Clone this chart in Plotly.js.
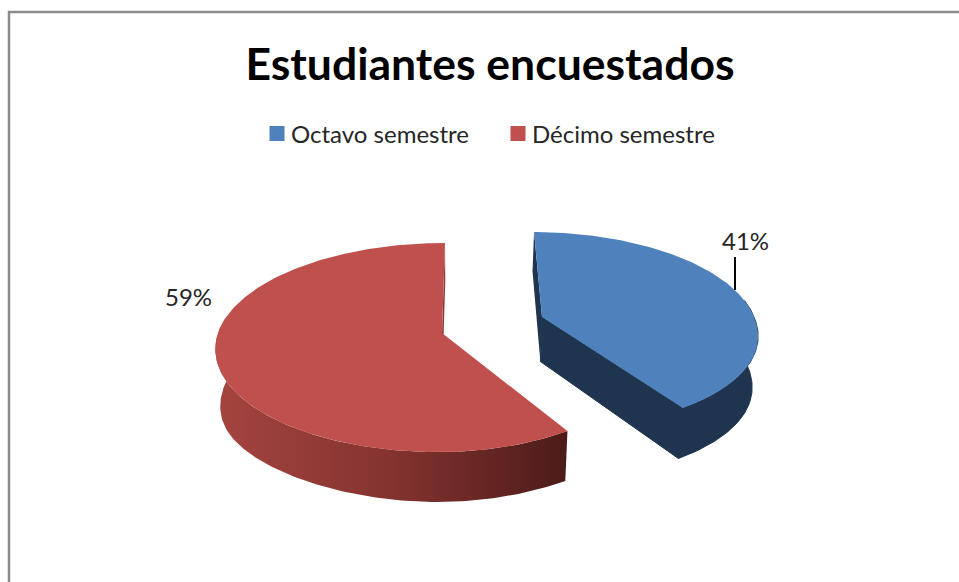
<!DOCTYPE html>
<html>
<head>
<meta charset="utf-8">
<script src="https://cdn.plot.ly/plotly-3.0.1.min.js"></script>
<style>html,body{margin:0;padding:0;background:#fff}#chart{width:959px;height:582px}</style>
</head>
<body>
<div id="chart"></div>
<script>
const chartTitle = 'Estudiantes encuestados';
const categories = ['Octavo semestre', 'Décimo semestre'];
const shares = [41, 59];
const faceColors = ['#4f81bd', '#c0504d'];
const innerWallColors = ['#1f344f', '#8f3d3a'];

// Projection of each exploded slice onto the page (tilted pie seen in perspective)
const views = [
  {cx: 542, cy: 317, rxL: 212, rxR: 212, ry: 96, k: 0.13, s: 9, sNear: 14, depth: 44.5, sag: 6},
  {cx: 442, cy: 333, rxL: 224, rxR: 212, ry: 102.5, k: 0.139, s: -3.4, sNear: -3.4, depth: 43, sag: 14}
];
const rad = d => d * Math.PI / 180;
function project(view, deg, r, lower) {
  const u = r * Math.sin(rad(deg)), v = -r * Math.cos(rad(deg)), w = 1 - view.k * v;
  let x = view.cx + ((u > 0 ? view.rxR : view.rxL) * u + (v > 0 ? view.sNear : view.s) * v) / w;
  let y = view.cy + view.ry * v / w;
  if (lower) { y += view.depth / w + view.sag * Math.pow(u, 4); x += (x - 460) * -0.02; }
  return [x, y];
}
function polygon(points) {
  return {x: points.map(p => p[0]), y: points.map(p => p[1])};
}
function arc(view, from, to, lower) {
  const pts = [];
  const n = Math.max(2, Math.ceil(Math.abs(to - from)));
  for (let i = 0; i <= n; i++) pts.push(project(view, from + (to - from) * i / n, 1, lower));
  return pts;
}
function fillTrace(points, color, gradient, edge) {
  const t = Object.assign(polygon(points.concat([points[0]])), {
    type: 'scatter', mode: 'lines', fill: 'toself', fillcolor: color,
    line: {width: edge || 0, color: color}, showlegend: false, hoverinfo: 'skip'
  });
  if (gradient) t.fillgradient = gradient;
  return t;
}

const total = shares.reduce((a, b) => a + b, 0);
const traces = [];
let start = 0;
const wedges = shares.map(s => { const w = [start, start + s / total * 360]; start = w[1]; return w; });

// Blue slice
{
  const i = 0, view = views[i], a = wedges[i][0], b = wedges[i][1];
  const from = Math.max(a, 80);
  traces.push(fillTrace([project(view, a, 1), project(view, a, 0), project(view, a, 0, true), project(view, a, 1, true)], innerWallColors[i]));
  traces.push(fillTrace(arc(view, from, b).concat(arc(view, b, from, true)), '#1f344f', null, 1));
  traces.push(fillTrace([project(view, b, 1), project(view, b, 0), project(view, b, 0, true), project(view, b, 1, true)], '#1f344f', null, 1));
  traces.push(fillTrace([project(view, b, 0)].concat(arc(view, a, b)).concat([project(view, a, 0)]), faceColors[i]));
}
// Red slice
{
  const i = 1, view = views[i], a = wedges[i][0], b = wedges[i][1];
  const to = Math.min(b, 278);
  traces.push(fillTrace([project(view, b, 1), project(view, b, 0), project(view, b, 0, true), project(view, b, 1, true)], innerWallColors[i]));
  traces.push(fillTrace(arc(view, a, to).concat(arc(view, to, a, true)), '#7a2f2c', {
    type: 'horizontal',
    colorscale: [[0, '#a4443f'], [0.5, '#84332f'], [1, '#4c1b19']]
  }));
  traces.push(fillTrace([project(view, a, 0)].concat(arc(view, a, b)), faceColors[i]));
}
// Legend entries
categories.forEach((name, i) => traces.push({
  type: 'scatter', mode: 'markers', name: name, x: [null], y: [null],
  marker: {symbol: 'square', size: 15, color: faceColors[i]}, hoverinfo: 'skip'
}));

const labelPositions = [[745, 240], [188, 296]];
const annotations = shares.map((s, i) => ({
  xref: 'x', yref: 'y', x: labelPositions[i][0], y: labelPositions[i][1],
  text: s + '%', showarrow: false, xanchor: 'center', yanchor: 'middle',
  font: {family: 'Lato, sans-serif', size: 24, color: '#262626'}
}));

const frame = {color: '#8c8c8c', width: 2.5};
const layout = {
  width: 959, height: 582,
  margin: {l: 0, r: 0, t: 0, b: 0, pad: 0},
  paper_bgcolor: '#ffffff', plot_bgcolor: '#ffffff',
  title: {
    text: '<b>' + chartTitle + '</b>',
    x: 490 / 959, xref: 'paper', xanchor: 'center',
    y: 1 - 64 / 582, yref: 'paper', yanchor: 'middle',
    font: {family: 'Lato, sans-serif', size: 44.5, color: '#000000'}
  },
  xaxis: {range: [0, 959], visible: false, fixedrange: true},
  yaxis: {range: [582, 0], visible: false, fixedrange: true},
  showlegend: true,
  legend: {
    orientation: 'h', x: 251 / 959, y: 1 - 134 / 582, xanchor: 'left', yanchor: 'middle',
    entrywidth: 196, entrywidthmode: 'pixels', itemclick: false, itemdoubleclick: false,
    font: {family: 'Lato, sans-serif', size: 24, color: '#262626'},
    bgcolor: 'rgba(0,0,0,0)'
  },
  annotations: annotations,
  shapes: [
    {type: 'line', xref: 'x', yref: 'y', x0: 8, x1: 959, y0: 12, y1: 12, line: frame},
    {type: 'line', xref: 'x', yref: 'y', x0: 9, x1: 9, y0: 11, y1: 582, line: frame},
    {type: 'line', xref: 'x', yref: 'y', x0: 735, x1: 735, y0: 257, y1: 290, line: {color: '#000000', width: 2}}
  ]
};
Plotly.newPlot('chart', traces, layout, {displayModeBar: false}).then(() => {
  document.querySelectorAll('#chart .legendsymbols').forEach(g => g.setAttribute('transform', 'translate(6,0)'));
});
</script>
</body>
</html>
